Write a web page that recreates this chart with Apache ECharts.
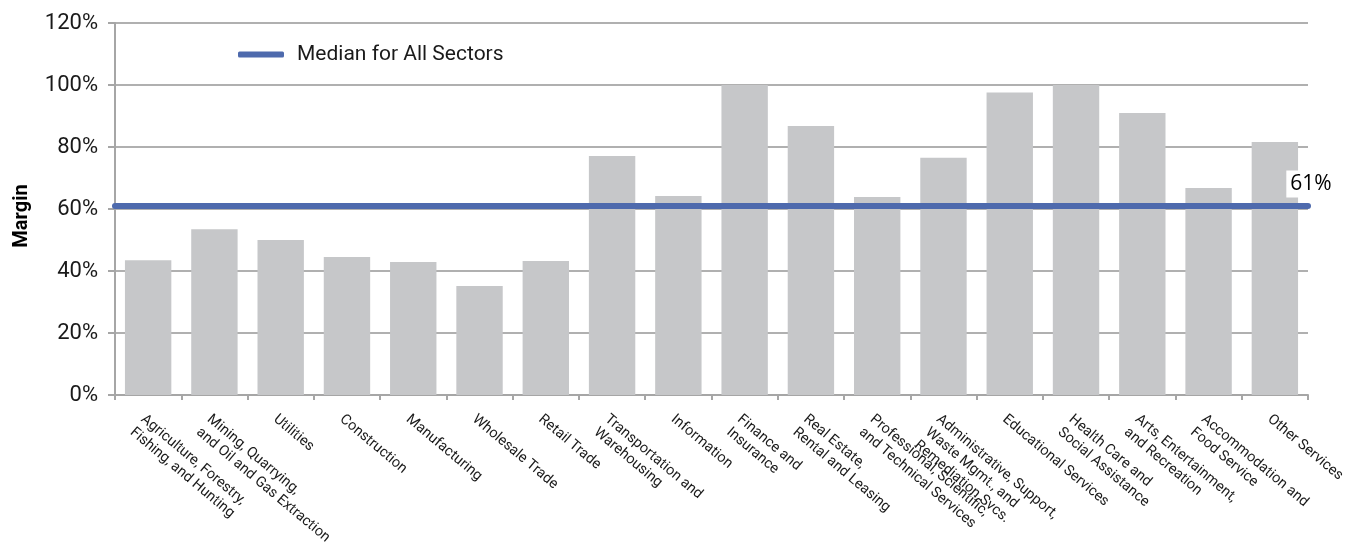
<!DOCTYPE html>
<html>
<head>
<meta charset="utf-8">
<script src="https://cdn.jsdelivr.net/npm/echarts@6/dist/echarts.min.js"></script>
<style>
  html, body { margin: 0; padding: 0; background: #ffffff; }
  #chart { width: 1360px; height: 542px; }
</style>
</head>
<body>
<div id="chart"></div>
<script>
// Industry sectors (x-axis categories)
const sectors = [
  'Agriculture, Forestry,\nFishing, and Hunting',
  'Mining, Quarrying,\nand Oil and Gas Extraction',
  'Utilities',
  'Construction',
  'Manufacturing',
  'Wholesale Trade',
  'Retail Trade',
  'Transportation and\nWarehousing',
  'Information',
  'Finance and\nInsurance',
  'Real Estate,\nRental and Leasing',
  'Professional, Scientific,\nand Technical Services',
  'Administrative, Support,\nWaste Mgmt., and\nRemediation Svcs.',
  'Educational Services',
  'Health Care and\nSocial Assistance',
  'Arts, Entertainment,\nand Recreation',
  'Accommodation and\nFood Service',
  'Other Services'
];

// Margin by sector, in percent
const margins = [43.5, 53.5, 50, 44.5, 42.9, 35.2, 43.2, 77.1, 64.2, 100,
                 86.8, 63.9, 76.5, 97.6, 100, 91, 66.8, 81.6];

// Median across all sectors, in percent
const medianAll = 61;
const medianName = 'Median for All Sectors';

// Y-axis scale
const yMin = 0, yMax = 120, yStep = 20;

const chart = echarts.init(document.getElementById('chart'));

chart.setOption({
  animation: false,
  textStyle: { fontFamily: 'Roboto' },
  grid: {
    left: 115, right: 52, top: 23, bottom: 147,
    containLabel: false,
    outerBoundsMode: 'none'
  },
  legend: {
    data: [{ name: medianName, icon: 'roundRect' }],
    left: 238,
    top: 44,
    padding: 0,
    itemWidth: 46,
    itemHeight: 6,
    textStyle: { fontSize: 21, color: '#1a1a1a', fontFamily: 'Roboto', padding: [0, 0, 0, 8] }
  },
  xAxis: [
    {
      type: 'category',
      data: sectors,
      axisLine: { lineStyle: { color: '#a6a6a6', width: 2 } },
      axisTick: { show: true, length: 5, alignWithLabel: false, lineStyle: { color: '#a6a6a6', width: 2 } },
      axisLabel: {
        interval: 0,
        rotate: -40,
        margin: 16,
        verticalAlign: 'top',
        fontSize: 14.5,
        lineHeight: 17,
        color: '#1a1a1a',
        fontFamily: 'Roboto'
      }
    },
    {
      type: 'value',
      min: 0,
      max: 1,
      show: false
    }
  ],
  yAxis: {
    type: 'value',
    min: yMin,
    max: yMax,
    interval: yStep,
    name: 'Margin',
    nameLocation: 'middle',
    nameGap: 83,
    nameTextStyle: {
      fontSize: 20, fontWeight: 'bold', color: '#000000', fontFamily: 'Roboto',
      padding: [0, 14, 0, 0]
    },
    axisLine: { show: true, lineStyle: { color: '#a6a6a6', width: 2 } },
    axisTick: { show: true, inside: false, length: 7, lineStyle: { color: '#a6a6a6', width: 2 } },
    axisLabel: {
      formatter: '{value}%',
      fontSize: 22,
      margin: 17,
      color: '#1a1a1a',
      fontFamily: 'Roboto'
    },
    splitLine: { show: true, lineStyle: { color: '#b0b0b0', width: 2 } }
  },
  series: [
    {
      name: 'Margin',
      type: 'bar',
      data: margins,
      barCategoryGap: '30%',
      itemStyle: { color: '#c6c7c9' },
      z: 2
    },
    {
      name: medianName,
      type: 'line',
      xAxisIndex: 1,
      data: [[0, medianAll], [1, medianAll]],
      showSymbol: false,
      symbol: 'none',
      color: '#4e6aad',
      lineStyle: { color: '#4e6aad', width: 6, cap: 'round' },
      z: 3,
      endLabel: {
        show: true,
        formatter: () => medianAll + '%',
        align: 'center',
        verticalAlign: 'middle',
        offset: [-5, -22],
        fontSize: 21,
        color: '#000000',
        fontFamily: 'Open Sans',
        backgroundColor: '#ffffff',
        padding: [3, 4, 3, 4]
      }
    }
  ]
});
</script>
</body>
</html>
